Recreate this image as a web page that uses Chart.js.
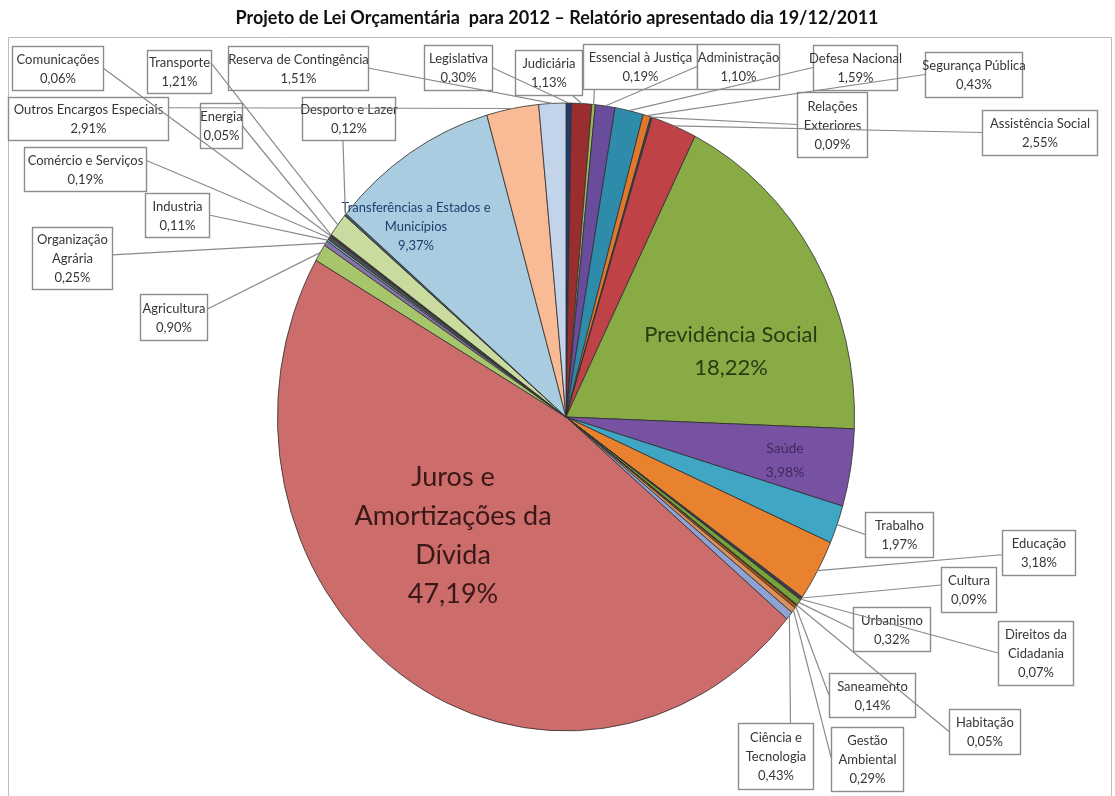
<!DOCTYPE html>
<html lang="pt">
<head>
<meta charset="utf-8">
<title>Projeto de Lei Orçamentária para 2012</title>
<script src="https://cdn.jsdelivr.net/npm/chart.js@4.4.1/dist/chart.umd.min.js"></script>
<style>
  html, body { margin: 0; padding: 0; background: #fff; }
  #chart { display: block; }
</style>
</head>
<body>
<canvas id="chart" width="1115" height="796"></canvas>
<script>
// funções do orçamento, na ordem do gráfico (sentido horário a partir do topo)
const categories = [
  "Legislativa", "Judiciária", "Essencial à Justiça", "Administração",
  "Defesa Nacional", "Segurança Pública", "Relações Exteriores", "Assistência Social",
  "Previdência Social", "Saúde", "Trabalho", "Educação",
  "Cultura", "Direitos da Cidadania", "Urbanismo", "Habitação",
  "Saneamento", "Gestão Ambiental", "Ciência e Tecnologia", "Juros e Amortizações da Dívida",
  "Agricultura", "Organização Agrária", "Industria", "Comércio e Serviços",
  "Comunicações", "Energia", "Transporte", "Desporto e Lazer",
  "Transferências a Estados e Municípios", "Outros Encargos Especiais", "Reserva de Contingência"
];

// % do orçamento
const shares = [
  0.30, 1.13, 0.19, 1.10,
  1.59, 0.43, 0.09, 2.55,
  18.22, 3.98, 1.97, 3.18,
  0.09, 0.07, 0.32, 0.05,
  0.14, 0.29, 0.43, 47.19,
  0.90, 0.25, 0.11, 0.19,
  0.06, 0.05, 1.21, 0.12,
  9.37, 2.91, 1.51
];

const sliceColors = [
  "#1F3B6E", "#9A2E2E", "#9BBB59", "#6A4C9C",
  "#2F8BAA", "#E0782C", "#2C4D75", "#BF4346",
  "#88AB46", "#7752A3", "#3FA6C4", "#E8822F",
  "#2C4D75", "#772C2A", "#77A33C", "#4D3B62",
  "#B65708", "#D9905A", "#8FA2D4", "#CC6C6B",
  "#A7C66B", "#8A73A8", "#6FA8C0", "#4F4F4F",
  "#2C4D75", "#772C2A", "#C9DB9E", "#3E5A6E",
  "#A9CCE0", "#F8BB96", "#C3D3EA"
];

// o gráfico original está esticado na vertical
const SY = 1.088;

const fmt = v => v.toFixed(2).replace(".", ",") + "%";

// caixas de rótulo: índice da fatia, caixa, ponto de ligação (fração), linhas do nome
const calloutBoxes = [
  { i: 0,  x: 424, y: 45,  w: 68,  h: 45, ax: 1,    ay: 0.5,  lines: ["Legislativa"] },
  { i: 1,  x: 515, y: 50,  w: 67,  h: 45, ax: 0.85, ay: 1,    lines: ["Judiciária"] },
  { i: 2,  x: 583, y: 44,  w: 114, h: 45, ax: 0.1,  ay: 1,    lines: ["Essencial à Justiça"] },
  { i: 3,  x: 697, y: 44,  w: 82,  h: 45, ax: 0,    ay: 0.5,  lines: ["Administração"] },
  { i: 4,  x: 813, y: 45,  w: 84,  h: 45, ax: 0,    ay: 0.5,  lines: ["Defesa Nacional"] },
  { i: 5,  x: 925, y: 52,  w: 97,  h: 45, ax: 0,    ay: 0.5,  lines: ["Segurança Pública"] },
  { i: 6,  x: 797, y: 92,  w: 70,  h: 65, ax: 0,    ay: 0.5,  lines: ["Relações", "Exteriores"] },
  { i: 7,  x: 982, y: 110, w: 115, h: 45, ax: 0,    ay: 0.5,  lines: ["Assistência Social"] },
  { i: 10, x: 865, y: 512, w: 68,  h: 45, ax: 0,    ay: 0.5,  lines: ["Trabalho"] },
  { i: 11, x: 1002, y: 530, w: 73, h: 45, ax: 0,    ay: 0.55, lines: ["Educação"] },
  { i: 12, x: 941, y: 567, w: 55,  h: 45, ax: 0,    ay: 0.4,  lines: ["Cultura"] },
  { i: 13, x: 998, y: 621, w: 75,  h: 64, ax: 0,    ay: 0.5,  lines: ["Direitos da", "Cidadania"] },
  { i: 14, x: 853, y: 607, w: 77,  h: 44, ax: 0,    ay: 0.5,  lines: ["Urbanismo"] },
  { i: 15, x: 949, y: 709, w: 71,  h: 45, ax: 0,    ay: 0.5,  lines: ["Habitação"] },
  { i: 16, x: 829, y: 673, w: 86,  h: 44, ax: 0,    ay: 0.5,  lines: ["Saneamento"] },
  { i: 17, x: 831, y: 727, w: 72,  h: 64, ax: 0,    ay: 0.47, lines: ["Gestão", "Ambiental"] },
  { i: 18, x: 738, y: 723, w: 75,  h: 66, ax: 0.7,  ay: 0,    lines: ["Ciência e", "Tecnologia"] },
  { i: 20, x: 140, y: 294, w: 67,  h: 46, ax: 1,    ay: 0.33, lines: ["Agricultura"] },
  { i: 21, x: 32,  y: 227, w: 80,  h: 62, ax: 1,    ay: 0.45, lines: ["Organização", "Agrária"] },
  { i: 22, x: 145, y: 193, w: 64,  h: 44, ax: 1,    ay: 0.5,  lines: ["Industria"] },
  { i: 23, x: 24,  y: 147, w: 122, h: 44, ax: 1,    ay: 0.3,  lines: ["Comércio e Serviços"] },
  { i: 24, x: 12,  y: 46,  w: 91,  h: 44, ax: 1,    ay: 0.5,  lines: ["Comunicações"] },
  { i: 25, x: 200, y: 103, w: 42,  h: 45, ax: 1,    ay: 0.5,  lines: ["Energia"] },
  { i: 26, x: 147, y: 50,  w: 64,  h: 43, ax: 1,    ay: 0.3,  lines: ["Transporte"] },
  { i: 27, x: 302, y: 97,  w: 93,  h: 43, ax: 0.44, ay: 1,    lines: ["Desporto e Lazer"] },
  { i: 29, x: 8,   y: 97,  w: 160, h: 43, ax: 1,    ay: 0.25, lines: ["Outros Encargos Especiais"] },
  { i: 30, x: 228, y: 46,  w: 140, h: 44, ax: 1,    ay: 0.5,  lines: ["Reserva de Contingência"] }
];

// rótulos dentro da pizza
const innerLabels = [
  { i: 19, x: 453, y: 477, lh: 39, size: 27, color: "#3A1818", lines: ["Juros e", "Amortizações da", "Dívida"] },
  { i: 8,  x: 731, y: 335, lh: 33, size: 22, color: "#2A3B12", lines: ["Previdência Social"] },
  { i: 9,  x: 785, y: 448, lh: 24, size: 14, color: "#3F2A5E", lines: ["Saúde"] },
  { i: 28, x: 416, y: 208, lh: 19, size: 13, color: "#1F3F6E", lines: ["Transferências a Estados e", "Municípios"] }
];

const FONT = "Lato, 'Open Sans', sans-serif";

const ellipsePlugin = {
  id: "ellipse",
  beforeDatasetsDraw(chart) {
    const arc = chart.getDatasetMeta(0).data[0];
    const ctx = chart.ctx;
    ctx.save();
    ctx.translate(arc.x, arc.y);
    ctx.scale(1, SY);
    ctx.translate(-arc.x, -arc.y);
  },
  afterDatasetsDraw(chart) {
    chart.ctx.restore();
  }
};

const labelsPlugin = {
  id: "labels",
  afterDraw(chart) {
    const ctx = chart.ctx;
    const meta = chart.getDatasetMeta(0);

    ctx.save();

    // moldura
    ctx.strokeStyle = "#BDBDBD";
    ctx.lineWidth = 1;
    ctx.beginPath();
    ctx.moveTo(8.5, 800);
    ctx.lineTo(8.5, 37.5);
    ctx.lineTo(1111.5, 37.5);
    ctx.lineTo(1111.5, 800);
    ctx.stroke();

    // título
    ctx.fillStyle = "#111";
    ctx.font = "bold 18px " + FONT;
    ctx.textAlign = "center";
    ctx.textBaseline = "middle";
    ctx.fillText("Projeto de Lei Orçamentária  para 2012 – Relatório apresentado dia 19/12/2011", 557, 18);

    // rótulos internos
    innerLabels.forEach(l => {
      ctx.fillStyle = l.color;
      ctx.font = l.size + "px " + FONT;
      const all = l.lines.concat([fmt(shares[l.i])]);
      all.forEach((t, k) => ctx.fillText(t, l.x, l.y + k * l.lh));
    });

    // caixas
    ctx.font = "13px " + FONT;
    calloutBoxes.forEach(b => {
      ctx.fillStyle = "#fff";
      ctx.fillRect(b.x, b.y, b.w, b.h);
      ctx.strokeStyle = "#8C8C8C";
      ctx.lineWidth = 1.4;
      ctx.strokeRect(b.x + 0.5, b.y + 0.5, b.w, b.h);
      ctx.fillStyle = "#363636";
      const all = b.lines.concat([fmt(shares[b.i])]);
      const lh = 19;
      all.forEach((t, k) => {
        ctx.fillText(t, b.x + b.w / 2 + 0.5, b.y + b.h / 2 + (k - (all.length - 1) / 2) * lh + 1);
      });
    });

    // linhas de chamada
    ctx.strokeStyle = "#8A8A8A";
    ctx.lineWidth = 1.2;
    calloutBoxes.forEach(b => {
      const arc = meta.data[b.i];
      const mid = (arc.startAngle + arc.endAngle) / 2;
      const px = arc.x + Math.cos(mid) * arc.outerRadius;
      const py = arc.y + Math.sin(mid) * arc.outerRadius * SY;
      ctx.beginPath();
      ctx.moveTo(b.x + b.w * b.ax, b.y + b.h * b.ay);
      ctx.lineTo(px, py);
      ctx.stroke();
    });

    ctx.restore();
  }
};

new Chart(document.getElementById("chart"), {
  type: "pie",
  data: {
    labels: categories,
    datasets: [{
      data: shares,
      backgroundColor: sliceColors,
      borderColor: "rgba(45,45,45,0.85)",
      borderWidth: 0.9,
      clip: false
    }]
  },
  options: {
    responsive: false,
    animation: false,
    devicePixelRatio: 1,
    events: [],
    layout: { padding: { left: 277, right: 260, top: 128, bottom: 90 } },
    plugins: {
      legend: { display: false },
      title: { display: false },
      tooltip: { enabled: false }
    }
  },
  plugins: [ellipsePlugin, labelsPlugin]
});
</script>
</body>
</html>
